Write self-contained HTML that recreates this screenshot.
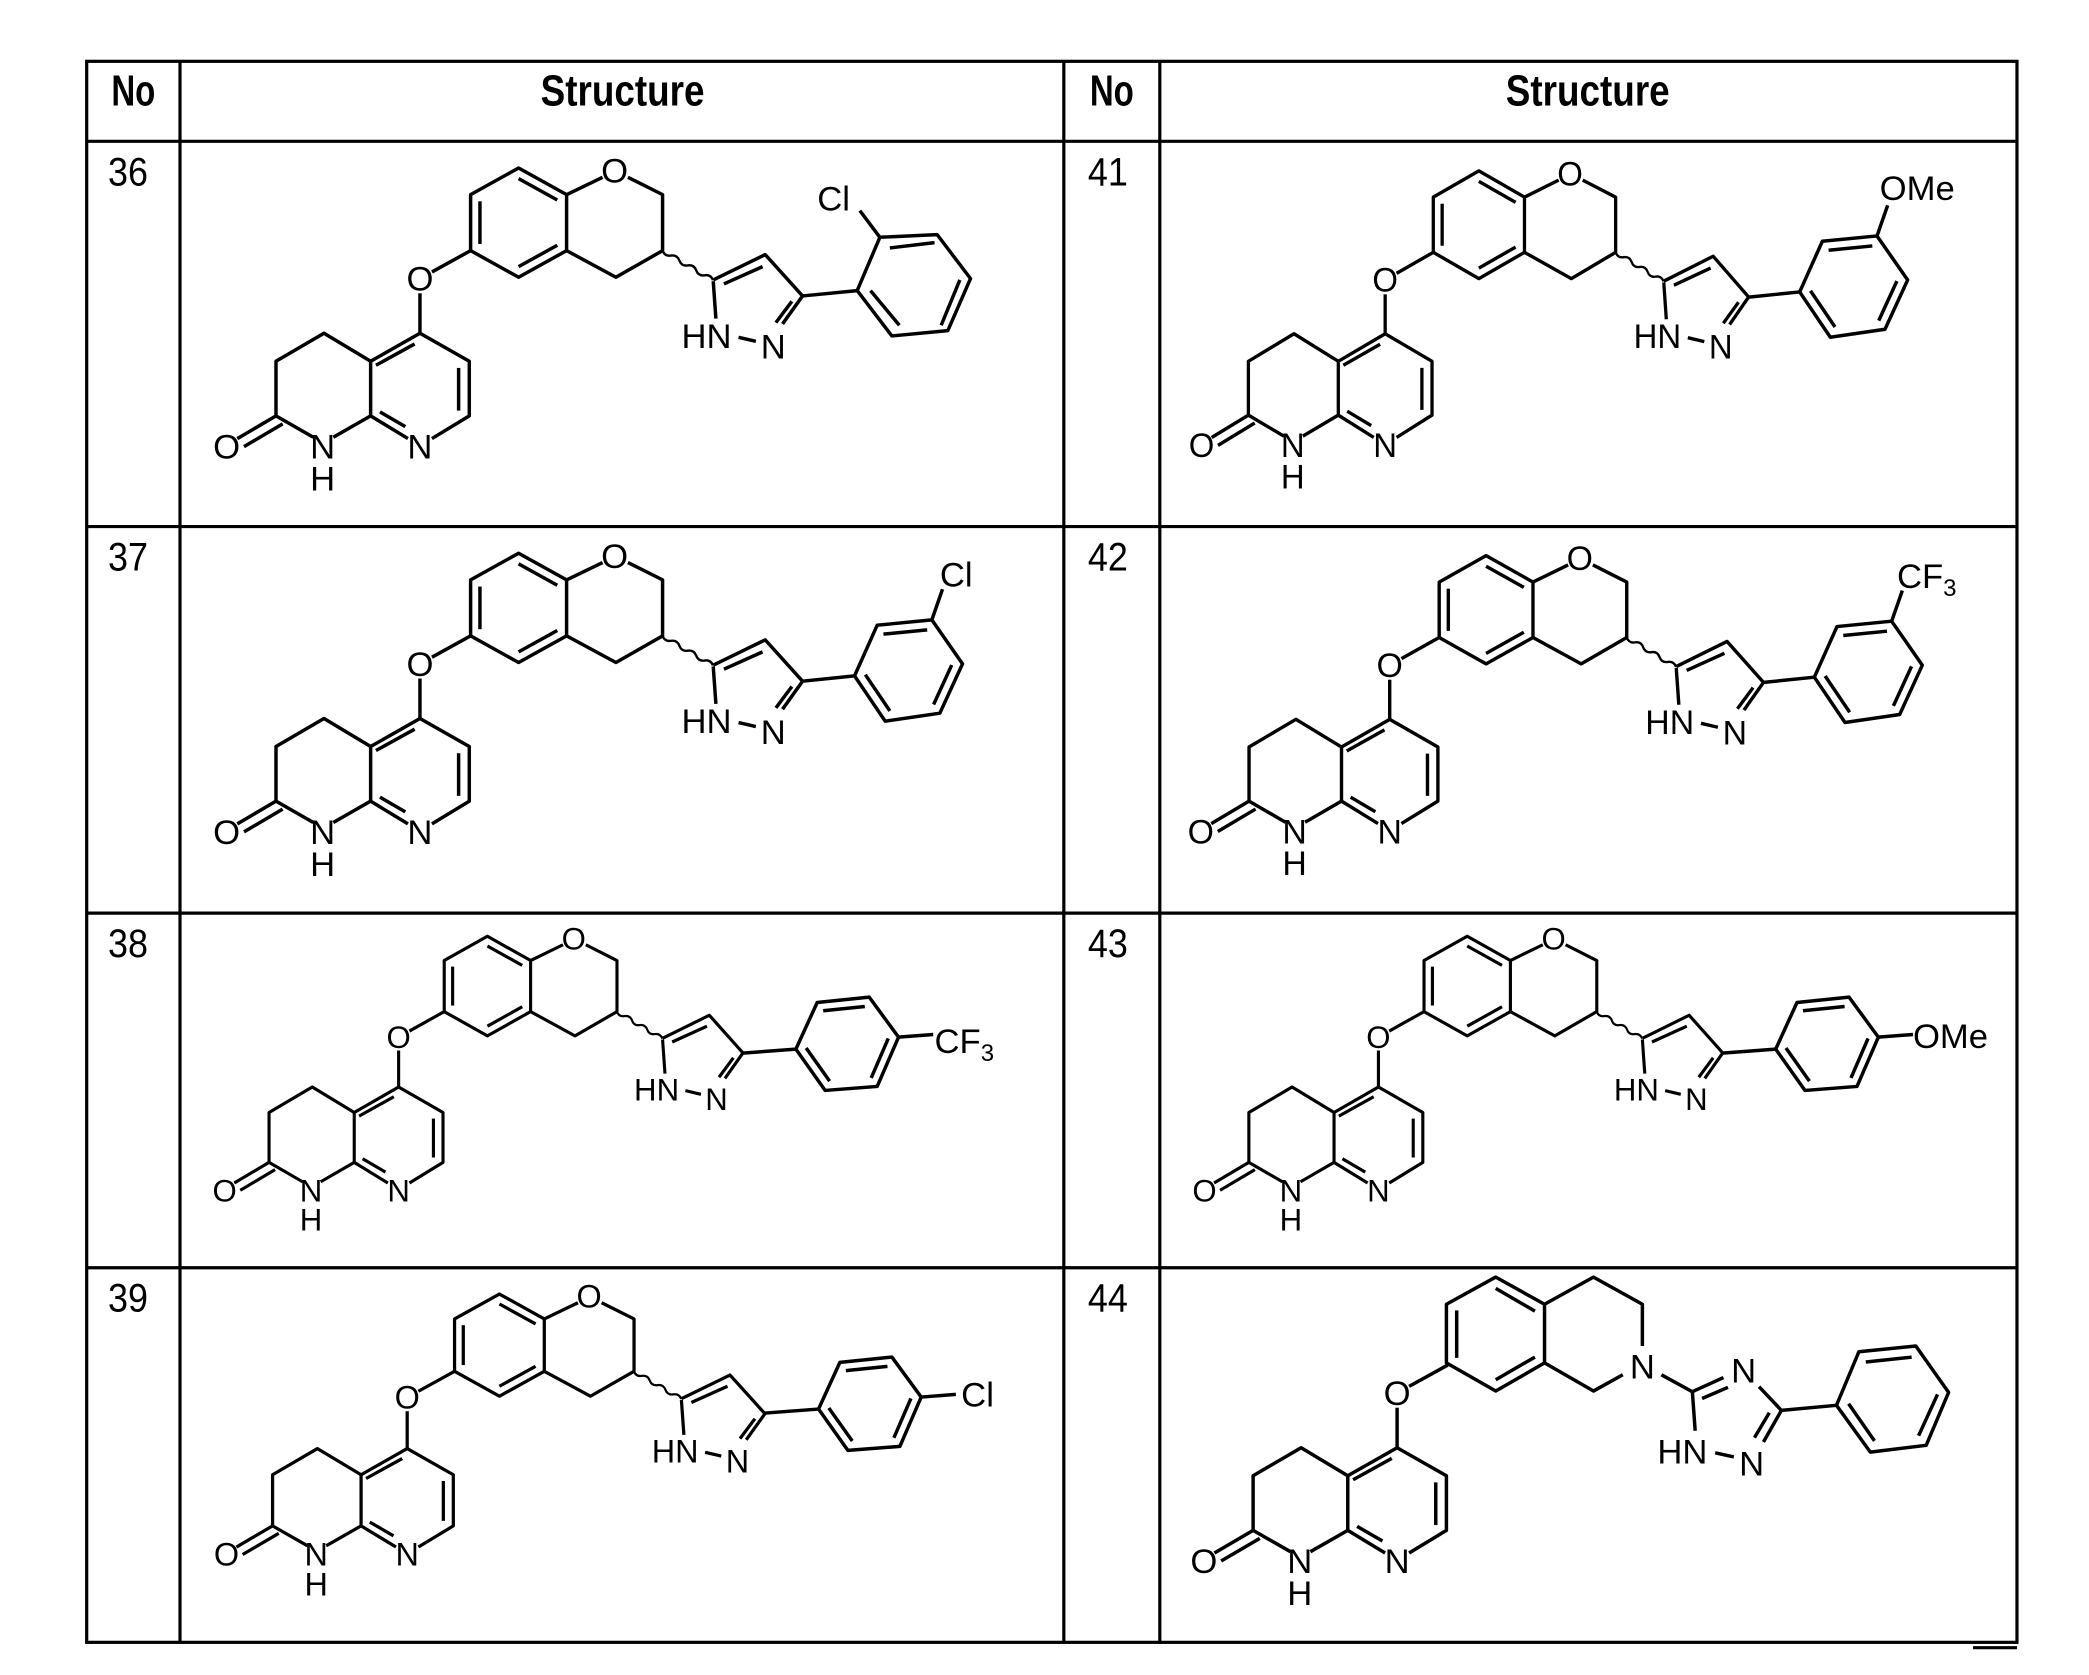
<!DOCTYPE html>
<html><head><meta charset="utf-8"><style>
html,body{margin:0;padding:0;background:#fff;}
svg{display:block;}
text{font-family:"Liberation Sans",sans-serif;fill:#000;}
.l{font-size:26px;text-anchor:middle;}
.n{font-size:30px;}
.h{font-size:33px;font-weight:bold;text-anchor:middle;}
.s{font-size:26px;}
</style></head><body>
<svg width="2089" height="1675" viewBox="0 0 1567 1256.5" xmlns="http://www.w3.org/2000/svg">
<defs>
<g id="bot" fill="none" stroke="#000" stroke-width="2.6" stroke-linejoin="round">
<line x1="353" y1="188" x2="324" y2="204"/><line x1="315" y1="220" x2="315" y2="250"/>
<polyline points="324,329 352,312 352,271 315,250 278,271 278,312 306,329"/>
<line x1="282" y1="274" x2="311" y2="258"/><line x1="344" y1="276" x2="344" y2="308"/><line x1="285" y1="309" x2="304" y2="320"/>
<polyline points="278,271 243,250 207,271 207,312 235,328"/>
<line x1="250" y1="328" x2="278" y2="312"/>
<line x1="207" y1="312" x2="178" y2="329"/><line x1="212" y1="318" x2="183" y2="335"/>
</g>
<g id="top" fill="none" stroke="#000" stroke-width="2.6" stroke-linejoin="round">
<polygon points="389,126 353,146 353,188 389,208 425,188 425,146"/>
<line x1="389" y1="134" x2="418" y2="150"/><line x1="360" y1="151" x2="360" y2="183"/><line x1="389" y1="200" x2="418" y2="184"/>
<line x1="425" y1="146" x2="452" y2="133"/><polyline points="471,133 497,146 497,188 462,208 425,188"/>
<path d="M497,188 q1.65,4.45 6.3,3.7 t6.3,3.7 t6.3,3.7 t6.3,3.7 t6.3,3.7 t6.3,3.7" stroke-width="1.8"/>
<polyline points="535,210 574,191 602,222 587,243"/>
<line x1="535" y1="211" x2="537" y2="239"/>
<line x1="543" y1="213" x2="572" y2="200"/><line x1="594" y1="226" x2="582" y2="242"/>
<line x1="554" y1="253" x2="567" y2="256"/>
</g>
<g id="meta" fill="none" stroke="#000" stroke-width="2.6" stroke-linejoin="round">
<line x1="0" y1="0" x2="39" y2="-4"/>
<polygon points="39,-4 56,-42 97,-46 120,-13 103,24 62,30"/>
<line x1="60.7" y1="-35.3" x2="93.5" y2="-38.5"/><line x1="111.9" y1="-12.1" x2="98.3" y2="17.5"/><line x1="65.5" y1="22.3" x2="47.1" y2="-4.9"/>
<line x1="97" y1="-46" x2="105" y2="-69"/>
</g>
<g id="para" fill="none" stroke="#000" stroke-width="2.6" stroke-linejoin="round">
<line x1="0" y1="0" x2="40" y2="-3"/>
<polygon points="40,-3 56,-38 95,-42 117,-12 101,25 62,28"/>
<line x1="60.5" y1="-31.8" x2="91.7" y2="-35"/><line x1="109.3" y1="-11" x2="96.5" y2="18.6"/><line x1="65.3" y1="21" x2="47.7" y2="-3.8"/>
<line x1="117" y1="-12" x2="143" y2="-14"/>
</g>
</defs>

<g stroke="#000" stroke-width="2.4" fill="none">
<rect x="65" y="46" width="1448" height="1186"/>
<line x1="65" y1="106" x2="1513" y2="106"/>
<line x1="65" y1="395" x2="1513" y2="395"/>
<line x1="65" y1="685" x2="1513" y2="685"/>
<line x1="65" y1="951" x2="1513" y2="951"/>
<line x1="135" y1="46" x2="135" y2="1232"/>
<line x1="798" y1="46" x2="798" y2="1232"/>
<line x1="870" y1="46" x2="870" y2="1232"/>
<line x1="1480" y1="1236" x2="1513" y2="1236"/>
</g>
<text class="h" x="100" y="79" textLength="33" lengthAdjust="spacingAndGlyphs">No</text>
<text class="h" x="467" y="79" textLength="123" lengthAdjust="spacingAndGlyphs">Structure</text>
<text class="h" x="834" y="79" textLength="33" lengthAdjust="spacingAndGlyphs">No</text>
<text class="h" x="1191" y="79" textLength="123" lengthAdjust="spacingAndGlyphs">Structure</text>

<text class="n" x="81" y="139" textLength="30" lengthAdjust="spacingAndGlyphs">36</text>
<text class="n" x="81" y="428" textLength="30" lengthAdjust="spacingAndGlyphs">37</text>
<text class="n" x="81" y="718" textLength="30" lengthAdjust="spacingAndGlyphs">38</text>
<text class="n" x="81" y="984" textLength="30" lengthAdjust="spacingAndGlyphs">39</text>
<text class="n" x="816" y="139" textLength="30" lengthAdjust="spacingAndGlyphs">41</text>
<text class="n" x="816" y="428" textLength="30" lengthAdjust="spacingAndGlyphs">42</text>
<text class="n" x="816" y="718" textLength="30" lengthAdjust="spacingAndGlyphs">43</text>
<text class="n" x="816" y="984" textLength="30" lengthAdjust="spacingAndGlyphs">44</text>

<g transform="matrix(1,0,0,1,0,0)">
<use href="#bot"/><use href="#top"/>
<text class="l" x="461" y="137">O</text><text class="l" x="315" y="218">O</text><text class="l" x="170" y="344">O</text>
<text class="l" x="242" y="344">N</text><text class="l" x="242" y="368">H</text><text class="l" x="315" y="344">N</text>
<text class="l" x="530" y="261">HN</text><text class="l" x="580" y="269">N</text>
</g>
<g transform="translate(602,222)" fill="none" stroke="#000" stroke-width="2.6" stroke-linejoin="round">
<line x1="0" y1="0" x2="41" y2="-4"/>
<polygon points="41,-4 58,-44 101,-46 126,-13 109,26 67,30"/>
<line x1="65.5" y1="-36" x2="99" y2="-40"/><line x1="118" y1="-12" x2="104" y2="22"/><line x1="72.6" y1="22" x2="51" y2="-4"/>
<line x1="58" y1="-44" x2="43" y2="-64"/>
</g>
<text class="s" x="613" y="158">Cl</text>

<g transform="matrix(1,0,0,1,0,289)">
<use href="#bot"/><use href="#top"/>
<text class="l" x="461" y="137">O</text><text class="l" x="315" y="218">O</text><text class="l" x="170" y="344">O</text>
<text class="l" x="242" y="344">N</text><text class="l" x="242" y="368">H</text><text class="l" x="315" y="344">N</text>
<text class="l" x="530" y="261">HN</text><text class="l" x="580" y="269">N</text>
</g>
<use href="#meta" transform="translate(602,511)"/>
<text class="s" x="705" y="440">Cl</text>

<g transform="matrix(0.9,0,0,0.912,15.5,587.4)">
<use href="#bot"/><use href="#top"/>
<text class="l" x="461" y="137">O</text><text class="l" x="315" y="218">O</text><text class="l" x="170" y="344">O</text>
<text class="l" x="242" y="344">N</text><text class="l" x="242" y="368">H</text><text class="l" x="315" y="344">N</text>
<text class="l" x="530" y="261">HN</text><text class="l" x="580" y="269">N</text>
</g>
<use href="#para" transform="translate(557,790)"/>
<text class="s" x="701" y="790">CF<tspan font-size="18" dy="6">3</tspan></text>

<g transform="matrix(0.935,0,0,0.935,10.9,852.9)">
<use href="#bot"/><use href="#top"/>
<text class="l" x="461" y="137">O</text><text class="l" x="315" y="218">O</text><text class="l" x="170" y="344">O</text>
<text class="l" x="242" y="344">N</text><text class="l" x="242" y="368">H</text><text class="l" x="315" y="344">N</text>
<text class="l" x="530" y="261">HN</text><text class="l" x="580" y="269">N</text>
</g>
<use href="#para" transform="translate(574,1060)"/>
<text class="s" x="721" y="1055">Cl</text>

<g transform="matrix(0.95,0,0,0.985,739.8,4.1)">
<use href="#bot"/><use href="#top"/>
<text class="l" x="461" y="137">O</text><text class="l" x="315" y="218">O</text><text class="l" x="170" y="344">O</text>
<text class="l" x="242" y="344">N</text><text class="l" x="242" y="368">H</text><text class="l" x="315" y="344">N</text>
<text class="l" x="530" y="261">HN</text><text class="l" x="580" y="269">N</text>
</g>
<use href="#meta" transform="translate(1311,223)"/>
<text class="s" x="1410" y="150">OMe</text>

<g transform="matrix(0.977,0,0,0.99,734.7,292.1)">
<use href="#bot"/><use href="#top"/>
<text class="l" x="461" y="137">O</text><text class="l" x="315" y="218">O</text><text class="l" x="170" y="344">O</text>
<text class="l" x="242" y="344">N</text><text class="l" x="242" y="368">H</text><text class="l" x="315" y="344">N</text>
<text class="l" x="530" y="261">HN</text><text class="l" x="580" y="269">N</text>
</g>
<use href="#meta" transform="translate(1322,512)"/>
<text class="s" x="1423" y="441">CF<tspan font-size="18" dy="6">3</tspan></text>

<g transform="matrix(0.9,0,0,0.912,750.5,587.4)">
<use href="#bot"/><use href="#top"/>
<text class="l" x="461" y="137">O</text><text class="l" x="315" y="218">O</text><text class="l" x="170" y="344">O</text>
<text class="l" x="242" y="344">N</text><text class="l" x="242" y="368">H</text><text class="l" x="315" y="344">N</text>
<text class="l" x="530" y="261">HN</text><text class="l" x="580" y="269">N</text>
</g>
<use href="#para" transform="translate(1292,790)"/>
<text class="s" x="1435" y="786">OMe</text>

<g transform="translate(733,836)">
<use href="#bot"/>
<text class="l" x="315" y="218">O</text><text class="l" x="170" y="344">O</text>
<text class="l" x="242" y="344">N</text><text class="l" x="242" y="368">H</text><text class="l" x="315" y="344">N</text>
</g>
<g fill="none" stroke="#000" stroke-width="2.6" stroke-linejoin="round">
<polygon points="1122,958 1085,978.4 1085,1022.4 1122,1043.5 1158.6,1022.4 1158.6,978.4"/>
<line x1="1122" y1="966.5" x2="1151.4" y2="983.5"/><line x1="1092.7" y1="983" x2="1092.7" y2="1018.6"/><line x1="1122" y1="1035" x2="1151.4" y2="1018"/>
<polyline points="1158.6,978.4 1195.3,958 1232,978.4 1232,1009.7"/>
<polyline points="1217.3,1031.3 1195.3,1043.5 1158.6,1022.4"/>
<line x1="1246.3" y1="1031.3" x2="1269.5" y2="1044"/>
<line x1="1269.5" y1="1044" x2="1292.8" y2="1033.4"/><line x1="1276.8" y1="1049.1" x2="1296.2" y2="1040.7"/>
<line x1="1319.5" y1="1040.2" x2="1336.3" y2="1058"/>
<line x1="1336.3" y1="1058" x2="1322.8" y2="1081.7"/><line x1="1327.2" y1="1059.8" x2="1316.1" y2="1078.4"/>
<line x1="1286.6" y1="1089.8" x2="1300.6" y2="1092.9"/>
<line x1="1269.5" y1="1044" x2="1271.6" y2="1073.3"/>
<line x1="1336.3" y1="1058" x2="1377.6" y2="1054.2"/>
<polygon points="1377.6,1054.2 1394.4,1014 1437.1,1009.7 1461.7,1044.5 1444.9,1084.2 1403,1089.3"/>
<line x1="1399.6" y1="1021.7" x2="1434" y2="1018.1"/><line x1="1453.4" y1="1046" x2="1439.2" y2="1077"/><line x1="1406.1" y1="1080.9" x2="1386.7" y2="1053"/>
</g>
<text class="l" x="1232" y="1034">N</text>
<text class="l" x="1308" y="1037">N</text>
<text class="l" x="1262" y="1098">HN</text>
<text class="l" x="1314" y="1107">N</text>
</svg>
</body></html>
